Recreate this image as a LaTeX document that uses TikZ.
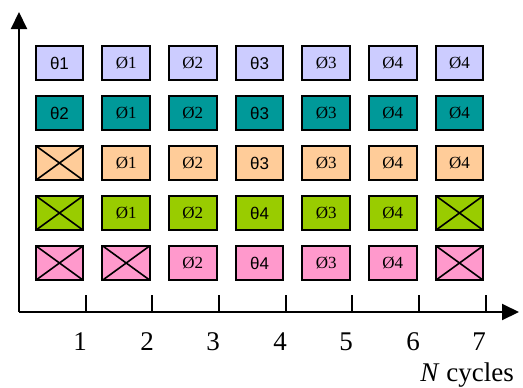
\documentclass[tikz,border=0pt]{standalone}
\usepackage{fontspec}
\setmainfont{Liberation Serif}
\newfontfamily\grk{Liberation Sans}
\usetikzlibrary{arrows.meta}

\definecolor{lav}{HTML}{CCCCFF}
\definecolor{tealc}{HTML}{009999}
\definecolor{peach}{HTML}{FFCC99}
\definecolor{lime}{HTML}{99CC00}
\definecolor{pinkc}{HTML}{FF99CC}

\begin{document}
\begin{tikzpicture}[
        x=0.5pt, y=0.5pt,
        cell/.style={rectangle, draw, line width=1pt, minimum width=23.8pt, minimum height=17.3pt, inner sep=0pt, font=\fontsize{8.5}{9}\selectfont},
        xcell/.style={cell, path picture={\draw[line width=0.8pt] (path picture bounding box.north west) -- (path picture bounding box.south east) (path picture bounding box.south west) -- (path picture bounding box.north east);}},
        axis/.style={line width=1pt, -{Triangle[width=8pt, length=8.5pt]}},
        tickmark/.style={line width=1.4pt},
        num/.style={font=\fontsize{13.5}{15}\selectfont}
    ]
    \useasboundingbox (0,0) rectangle (523,387);

    % Axes
    \coordinate (O) at (19,75);
    \coordinate (ytop) at (19,375);
    \coordinate (xend) at (519,75);
    \draw[axis] (O) -- (ytop);
    \draw[axis] (O) -- (xend);

    % Ticks and cycle numbers
    \coordinate (t1) at (86,75);
    \coordinate (t2) at (152,75);
    \coordinate (t3) at (219,75);
    \coordinate (t4) at (286,75);
    \coordinate (t5) at (352,75);
    \coordinate (t6) at (419,75);
    \coordinate (t7) at (486,75);
    \draw[tickmark] (t1) -- ++(0,17);
    \draw[tickmark] (t2) -- ++(0,17);
    \draw[tickmark] (t3) -- ++(0,17);
    \draw[tickmark] (t4) -- ++(0,17);
    \draw[tickmark] (t5) -- ++(0,17);
    \draw[tickmark] (t6) -- ++(0,17);
    \draw[tickmark] (t7) -- ++(0,17);
    \node[num] (n1) at (80,45) {1};
    \node[num] (n2) at (147,45) {2};
    \node[num] (n3) at (213,45) {3};
    \node[num] (n4) at (280,45) {4};
    \node[num] (n5) at (346,45) {5};
    \node[num] (n6) at (413,45) {6};
    \node[num] (n7) at (479,45) {7};
    \node[num, anchor=east] (xlbl) at (521,12) {\textit{N} cycles};

    % Row 1
    \node[cell, fill=lav] (r1c1) at (59.5,324) {\grk θ1};
    \node[cell, fill=lav] (r1c2) at (126.2,324) {Ø1};
    \node[cell, fill=lav] (r1c3) at (192.8,324) {Ø2};
    \node[cell, fill=lav] (r1c4) at (259.5,324) {\grk θ3};
    \node[cell, fill=lav] (r1c5) at (326.2,324) {Ø3};
    \node[cell, fill=lav] (r1c6) at (392.8,324) {Ø4};
    \node[cell, fill=lav] (r1c7) at (459.5,324) {Ø4};

    % Row 2
    \node[cell, fill=tealc] (r2c1) at (59.5,274) {\grk θ2};
    \node[cell, fill=tealc] (r2c2) at (126.2,274) {Ø1};
    \node[cell, fill=tealc] (r2c3) at (192.8,274) {Ø2};
    \node[cell, fill=tealc] (r2c4) at (259.5,274) {\grk θ3};
    \node[cell, fill=tealc] (r2c5) at (326.2,274) {Ø3};
    \node[cell, fill=tealc] (r2c6) at (392.8,274) {Ø4};
    \node[cell, fill=tealc] (r2c7) at (459.5,274) {Ø4};

    % Row 3
    \node[xcell, fill=peach] (r3c1) at (59.5,224) {};
    \node[cell, fill=peach] (r3c2) at (126.2,224) {Ø1};
    \node[cell, fill=peach] (r3c3) at (192.8,224) {Ø2};
    \node[cell, fill=peach] (r3c4) at (259.5,224) {\grk θ3};
    \node[cell, fill=peach] (r3c5) at (326.2,224) {Ø3};
    \node[cell, fill=peach] (r3c6) at (392.8,224) {Ø4};
    \node[cell, fill=peach] (r3c7) at (459.5,224) {Ø4};

    % Row 4
    \node[xcell, fill=lime] (r4c1) at (59.5,174) {};
    \node[cell, fill=lime] (r4c2) at (126.2,174) {Ø1};
    \node[cell, fill=lime] (r4c3) at (192.8,174) {Ø2};
    \node[cell, fill=lime] (r4c4) at (259.5,174) {\grk θ4};
    \node[cell, fill=lime] (r4c5) at (326.2,174) {Ø3};
    \node[cell, fill=lime] (r4c6) at (392.8,174) {Ø4};
    \node[xcell, fill=lime] (r4c7) at (459.5,174) {};

    % Row 5
    \node[xcell, fill=pinkc] (r5c1) at (59.5,124) {};
    \node[xcell, fill=pinkc] (r5c2) at (126.2,124) {};
    \node[cell, fill=pinkc] (r5c3) at (192.8,124) {Ø2};
    \node[cell, fill=pinkc] (r5c4) at (259.5,124) {\grk θ4};
    \node[cell, fill=pinkc] (r5c5) at (326.2,124) {Ø3};
    \node[cell, fill=pinkc] (r5c6) at (392.8,124) {Ø4};
    \node[xcell, fill=pinkc] (r5c7) at (459.5,124) {};

\end{tikzpicture}
\end{document}
